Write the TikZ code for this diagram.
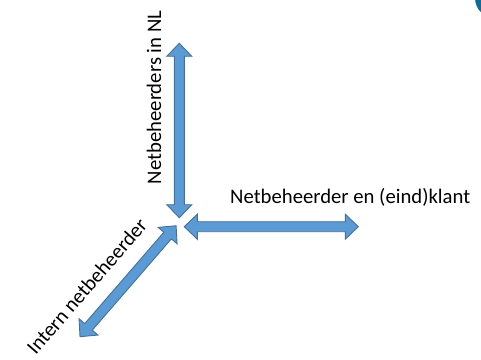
\documentclass[tikz,border=0pt]{standalone}
\usepackage{fontspec}
\setmainfont{Carlito}
\definecolor{arrfill}{HTML}{5B9BD5}
\definecolor{arrline}{HTML}{41719C}
\definecolor{cornerteal}{RGB}{16,108,150}
\tikzset{
  blockarrow/.style={fill=arrfill, draw=arrline, line width=0.9pt, line join=miter},
  lbl/.style={inner sep=0pt, font=\fontsize{20.7}{24}\selectfont},
  pics/dbl/.style={code={
    \draw[blockarrow] (0,0) -- (13,12.5) -- (13,5) -- (#1-13,5) -- (#1-13,12.5) -- (#1,0)
      -- (#1-13,-12.5) -- (#1-13,-5) -- (13,-5) -- (13,-12.5) -- cycle;}}
}
\begin{document}
\begin{tikzpicture}[x=1pt,y=1pt]
  \clip (0,0) rectangle (481,359);
  \fill[cornerteal] (495,361) circle (20);
  \coordinate (vbot) at (179.3,141.3);
  \coordinate (hleft) at (184.3,132.3);
  \coordinate (dbot) at (80,22.3);
  \pic[rotate=90] at (vbot) {dbl=174.4};
  \pic at (hleft) {dbl=174};
  \pic[rotate=49.1] at (dbot) {dbl=146.8};
  \node[lbl, rotate=90, anchor=base] (nl) at (161,261.5) {Netbeheerders in NL};
  \node[lbl, anchor=base west] (klant) at (230,155.7) {Netbeheerder en (eind)klant};
  \node[lbl, rotate=49.1, anchor=base east] (intern) at (148.5,133) {Intern netbeheerder};
\end{tikzpicture}
\end{document}
